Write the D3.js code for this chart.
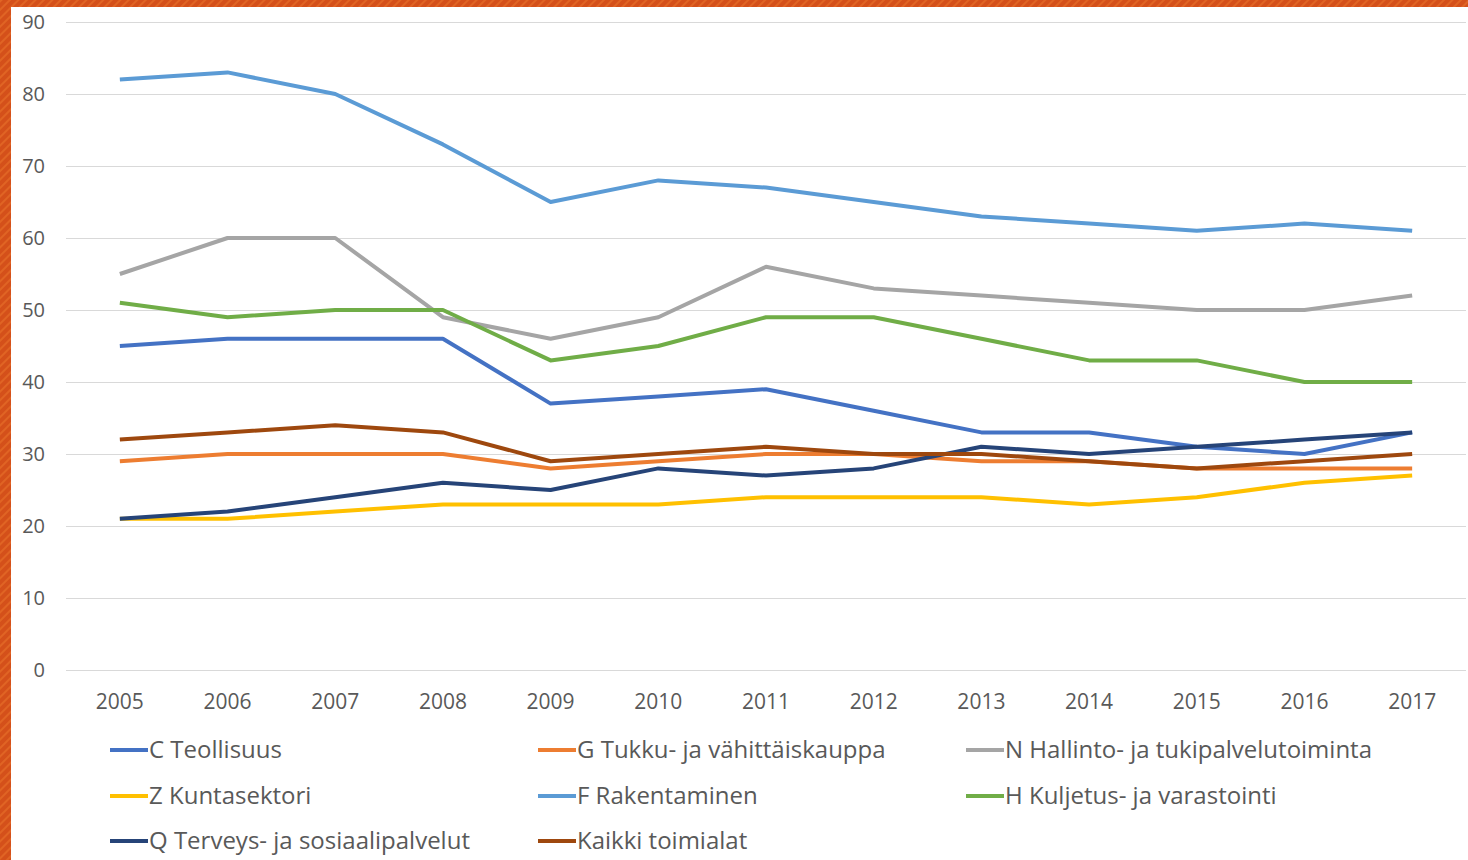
<!DOCTYPE html>
<html>
<head>
<meta charset="utf-8">
<script src="https://cdn.jsdelivr.net/npm/d3@7"></script>
<style>
  body { margin: 0; background: #fff; }
  svg { display: block; }
</style>
</head>
<body>
<svg></svg>
<script>
var W = 1468, H = 860;

var years = ["2005","2006","2007","2008","2009","2010","2011","2012","2013","2014","2015","2016","2017"];
var yTicks = [0, 10, 20, 30, 40, 50, 60, 70, 80, 90];

var teollisuus   = [45, 46, 46, 46, 37, 38, 39, 36, 33, 33, 31, 30, 33];
var tukku        = [29, 30, 30, 30, 28, 29, 30, 30, 29, 29, 28, 28, 28];
var hallinto     = [55, 60, 60, 49, 46, 49, 56, 53, 52, 51, 50, 50, 52];
var kuntasektori = [21, 21, 22, 23, 23, 23, 24, 24, 24, 23, 24, 26, 27];
var rakentaminen = [82, 83, 80, 73, 65, 68, 67, 65, 63, 62, 61, 62, 61];
var kuljetus     = [51, 49, 50, 50, 43, 45, 49, 49, 46, 43, 43, 40, 40];
var terveys      = [21, 22, 24, 26, 25, 28, 27, 28, 31, 30, 31, 32, 33];
var kaikki       = [32, 33, 34, 33, 29, 30, 31, 30, 30, 29, 28, 29, 30];

var seriesNames = ["C Teollisuus", "G Tukku- ja vähittäiskauppa", "N Hallinto- ja tukipalvelutoiminta",
  "Z Kuntasektori", "F Rakentaminen", "H Kuljetus- ja varastointi",
  "Q Terveys- ja sosiaalipalvelut", "Kaikki toimialat"];
var seriesValues = [teollisuus, tukku, hallinto, kuntasektori, rakentaminen, kuljetus, terveys, kaikki];
var colors = ["#4472c4", "#ed7d31", "#a5a5a5", "#ffc000", "#5b9bd5", "#70ad47", "#264478", "#9e480e"];

var svg = d3.select("svg").attr("width", W).attr("height", H);

// orange frame with faint diagonal texture
var defs = svg.append("defs");
var pat = defs.append("pattern")
  .attr("id", "hatch")
  .attr("width", 6).attr("height", 6)
  .attr("patternUnits", "userSpaceOnUse")
  .attr("patternTransform", "rotate(45)");
pat.append("rect").attr("width", 6).attr("height", 6).attr("fill", "#d4501a");
pat.append("rect").attr("width", 2).attr("height", 6).attr("fill", "#e06424");

svg.append("rect").attr("x", 0).attr("y", 0).attr("width", W).attr("height", H).attr("fill", "url(#hatch)");
svg.append("rect").attr("x", 11).attr("y", 7).attr("width", W - 11).attr("height", H - 7).attr("fill", "#fff");

var margin = {top: 22, left: 66, right: 2, bottom: 190};

var x = d3.scaleBand()
  .domain(years)
  .range([margin.left, W - margin.right]);

var y = d3.scaleLinear()
  .domain([0, 90])
  .range([H - margin.bottom, margin.top]);

// gridlines
svg.append("g")
  .selectAll("line")
  .data(yTicks)
  .join("line")
  .attr("x1", margin.left)
  .attr("x2", W - margin.right)
  .attr("y1", function(d) { return Math.round(y(d)) + 0.5; })
  .attr("y2", function(d) { return Math.round(y(d)) + 0.5; })
  .attr("stroke", "#d9d9d9")
  .attr("stroke-width", 1);

// y labels
var yAxis = svg.append("g")
  .attr("transform", "translate(" + (margin.left - 21) + ",0)")
  .call(d3.axisLeft(y).tickValues(yTicks).tickSize(0).tickPadding(0));
yAxis.select(".domain").remove();
yAxis.selectAll("text")
  .attr("font-family", "'Open Sans', sans-serif")
  .attr("font-size", 20)
  .attr("fill", "#595959");

// x labels
var xAxis = svg.append("g")
  .attr("transform", "translate(0," + (H - margin.bottom + 24) + ")")
  .call(d3.axisBottom(x).tickSize(0).tickPadding(0));
xAxis.select(".domain").remove();
xAxis.selectAll("text")
  .attr("font-family", "'Open Sans', sans-serif")
  .attr("font-size", 21)
  .attr("fill", "#595959");

// lines
var line = d3.line()
  .x(function(d, i) { return x(years[i]) + x.bandwidth() / 2; })
  .y(function(d) { return y(d); });

svg.append("g")
  .selectAll("path")
  .data(seriesValues)
  .join("path")
  .attr("d", line)
  .attr("fill", "none")
  .attr("stroke", function(d, i) { return colors[i]; })
  .attr("stroke-width", 4)
  .attr("stroke-linejoin", "round");

// legend
var legX = [110, 538, 966];
var legY = [750, 796, 841];

var leg = svg.append("g")
  .selectAll("g")
  .data(seriesNames)
  .join("g")
  .attr("transform", function(d, i) { return "translate(" + legX[i % 3] + "," + legY[Math.floor(i / 3)] + ")"; });

leg.append("line")
  .attr("x1", 0).attr("x2", 38)
  .attr("stroke", function(d, i) { return colors[i]; })
  .attr("stroke-width", 4);

leg.append("text")
  .attr("x", 39)
  .attr("dy", "0.35em")
  .attr("font-family", "'Open Sans', sans-serif")
  .attr("font-size", 24)
  .attr("fill", "#595959")
  .text(function(d) { return d; });
</script>
</body>
</html>
